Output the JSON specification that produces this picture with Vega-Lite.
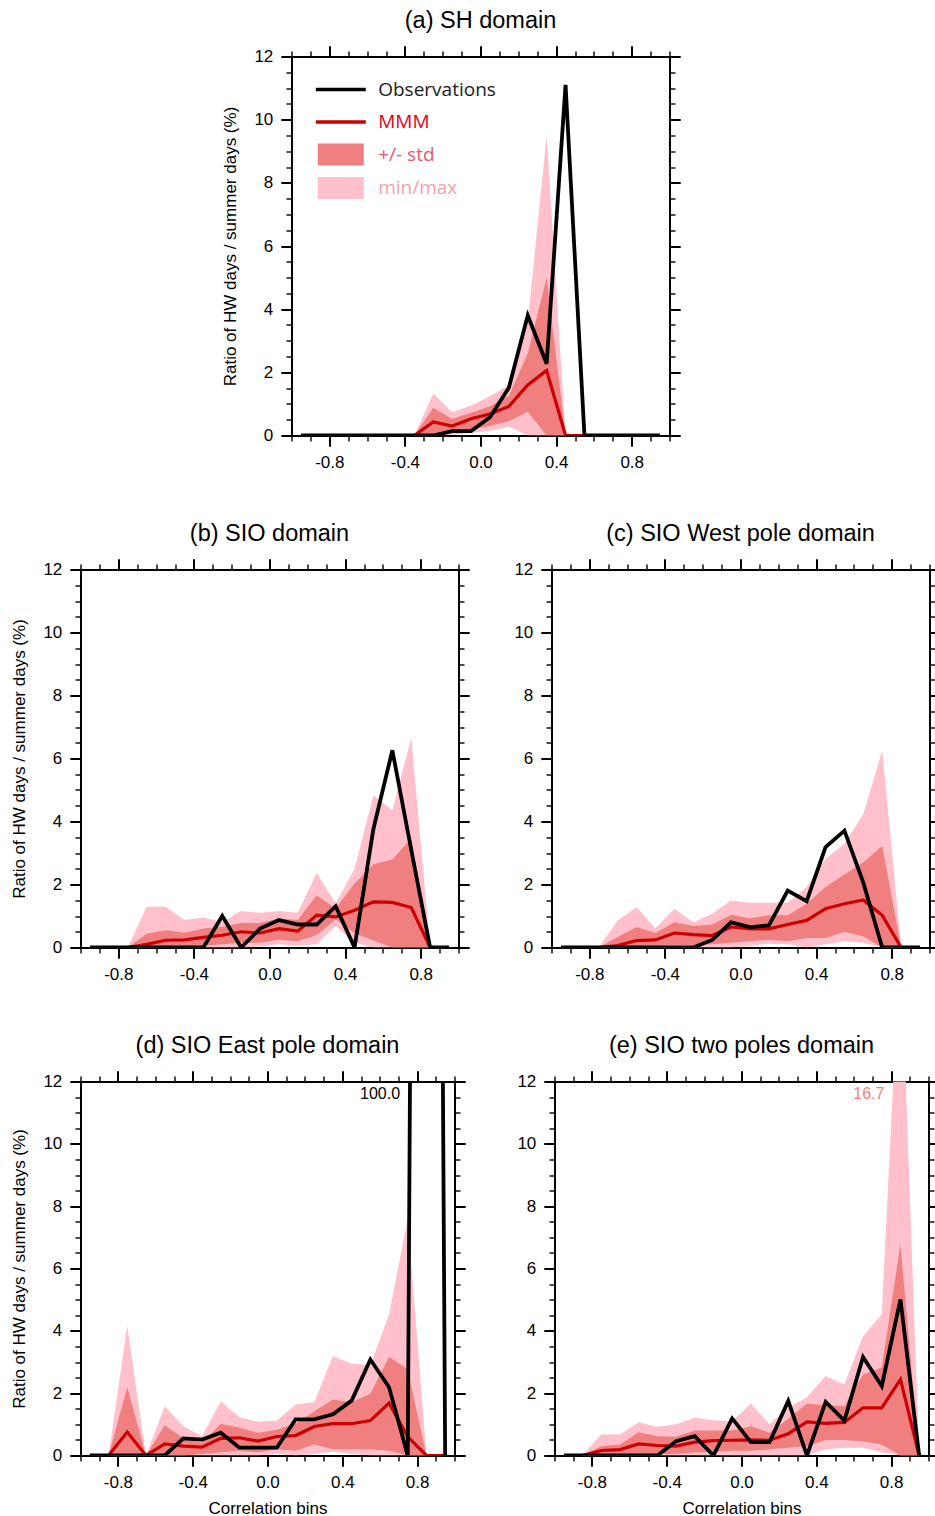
{
"$schema": "https://vega.github.io/schema/vega-lite/v6.json",
"padding": {"left": 10.5, "top": 8.5, "right": 0, "bottom": 0},
"background": "white",
"config": {
  "view": {"stroke": null},
  "font": "Liberation Sans",
  "axis": {"grid": false, "domainColor": "black", "tickColor": "black", "labelColor": "black", "titleColor": "black", "labelFontSize": 17, "titleFontSize": 17, "titleFontWeight": "normal", "labelFont": "Liberation Sans", "titleFont": "Liberation Sans", "labelFlush": false, "domainWidth": 2, "zindex": 1, "labelPadding": 8, "titlePadding": 14},
  "title": {"font": "Liberation Sans", "fontSize": 23.5, "fontWeight": "normal", "color": "black", "offset": 12, "anchor": "middle", "frame": "group"}
},
"datasets": {
"notes": [
{"p":"d","x":0.709,"y":11.6,"label":"100.0"},
{"p":"e","x":0.764,"y":11.6,"label":"16.7"}
],
"bins": [
{"p":"a","x":-0.95,"obs":0,"mmm":0,"slo":0,"shi":0,"mn":0,"mx":0},
{"p":"a","x":-0.85,"obs":0,"mmm":0,"slo":0,"shi":0,"mn":0,"mx":0},
{"p":"a","x":-0.75,"obs":0,"mmm":0,"slo":0,"shi":0,"mn":0,"mx":0},
{"p":"a","x":-0.65,"obs":0,"mmm":0,"slo":0,"shi":0,"mn":0,"mx":0},
{"p":"a","x":-0.55,"obs":0,"mmm":0,"slo":0,"shi":0,"mn":0,"mx":0},
{"p":"a","x":-0.45,"obs":0,"mmm":0,"slo":0,"shi":0,"mn":0,"mx":0},
{"p":"a","x":-0.35,"obs":0,"mmm":0,"slo":0,"shi":0,"mn":0,"mx":0},
{"p":"a","x":-0.25,"obs":0,"mmm":0.43,"slo":0.05,"shi":0.88,"mn":0,"mx":1.33},
{"p":"a","x":-0.15,"obs":0.14,"mmm":0.3,"slo":0.1,"shi":0.52,"mn":0.02,"mx":0.74},
{"p":"a","x":-0.05,"obs":0.14,"mmm":0.53,"slo":0.2,"shi":0.72,"mn":0.08,"mx":0.95},
{"p":"a","x":0.05,"obs":0.58,"mmm":0.68,"slo":0.3,"shi":0.93,"mn":0.15,"mx":1.24},
{"p":"a","x":0.15,"obs":1.51,"mmm":0.92,"slo":0.45,"shi":1.25,"mn":0.28,"mx":1.6},
{"p":"a","x":0.25,"obs":3.8,"mmm":1.6,"slo":0.75,"shi":2.6,"mn":0,"mx":3.6},
{"p":"a","x":0.35,"obs":2.27,"mmm":2.06,"slo":0,"shi":5.0,"mn":0,"mx":9.5},
{"p":"a","x":0.45,"obs":11.1,"mmm":0,"slo":0,"shi":0,"mn":0,"mx":0},
{"p":"a","x":0.55,"obs":0,"mmm":0,"slo":0,"shi":0,"mn":0,"mx":0},
{"p":"a","x":0.65,"obs":0,"mmm":0,"slo":0,"shi":0,"mn":0,"mx":0},
{"p":"a","x":0.75,"obs":0,"mmm":0,"slo":0,"shi":0,"mn":0,"mx":0},
{"p":"a","x":0.85,"obs":0,"mmm":0,"slo":0,"shi":0,"mn":0,"mx":0},
{"p":"a","x":0.95,"obs":0,"mmm":0,"slo":0,"shi":0,"mn":0,"mx":0},
{"p":"b","x":-0.95,"obs":0,"mmm":0,"slo":0,"shi":0,"mn":0,"mx":0},
{"p":"b","x":-0.85,"obs":0,"mmm":0,"slo":0,"shi":0,"mn":0,"mx":0},
{"p":"b","x":-0.75,"obs":0,"mmm":0,"slo":0,"shi":0,"mn":0,"mx":0},
{"p":"b","x":-0.65,"obs":0,"mmm":0.1,"slo":0,"shi":0.44,"mn":0,"mx":1.29},
{"p":"b","x":-0.55,"obs":0,"mmm":0.23,"slo":0.03,"shi":0.55,"mn":0,"mx":1.29},
{"p":"b","x":-0.45,"obs":0,"mmm":0.24,"slo":0.05,"shi":0.47,"mn":0,"mx":0.87},
{"p":"b","x":-0.35,"obs":0,"mmm":0.32,"slo":0.05,"shi":0.6,"mn":0,"mx":0.95},
{"p":"b","x":-0.25,"obs":1.0,"mmm":0.39,"slo":0.1,"shi":0.66,"mn":0,"mx":0.81},
{"p":"b","x":-0.15,"obs":0,"mmm":0.5,"slo":0.15,"shi":0.78,"mn":0,"mx":1.16},
{"p":"b","x":-0.05,"obs":0.6,"mmm":0.46,"slo":0.15,"shi":0.78,"mn":0.03,"mx":1.1},
{"p":"b","x":0.05,"obs":0.87,"mmm":0.6,"slo":0.25,"shi":0.92,"mn":0.1,"mx":1.16},
{"p":"b","x":0.15,"obs":0.73,"mmm":0.52,"slo":0.2,"shi":0.87,"mn":0.05,"mx":1.1},
{"p":"b","x":0.25,"obs":0.73,"mmm":1.03,"slo":0.4,"shi":1.66,"mn":0.1,"mx":2.37},
{"p":"b","x":0.35,"obs":1.31,"mmm":0.97,"slo":0.9,"shi":1.24,"mn":0.68,"mx":1.4},
{"p":"b","x":0.45,"obs":0,"mmm":1.18,"slo":0.45,"shi":2.03,"mn":0.15,"mx":2.5},
{"p":"b","x":0.55,"obs":3.77,"mmm":1.45,"slo":0.22,"shi":2.64,"mn":0,"mx":4.83},
{"p":"b","x":0.65,"obs":6.26,"mmm":1.43,"slo":0,"shi":2.79,"mn":0,"mx":4.36},
{"p":"b","x":0.75,"obs":3.1,"mmm":1.27,"slo":0,"shi":3.46,"mn":0,"mx":6.65},
{"p":"b","x":0.85,"obs":0,"mmm":0,"slo":0,"shi":0,"mn":0,"mx":0},
{"p":"b","x":0.95,"obs":0,"mmm":0,"slo":0,"shi":0,"mn":0,"mx":0},
{"p":"c","x":-0.95,"obs":0,"mmm":0,"slo":0,"shi":0,"mn":0,"mx":0},
{"p":"c","x":-0.85,"obs":0,"mmm":0,"slo":0,"shi":0,"mn":0,"mx":0},
{"p":"c","x":-0.75,"obs":0,"mmm":0,"slo":0,"shi":0,"mn":0,"mx":0},
{"p":"c","x":-0.65,"obs":0,"mmm":0.06,"slo":0,"shi":0.33,"mn":0,"mx":0.86},
{"p":"c","x":-0.55,"obs":0,"mmm":0.22,"slo":0.03,"shi":0.65,"mn":0,"mx":1.28},
{"p":"c","x":-0.45,"obs":0,"mmm":0.24,"slo":0.05,"shi":0.46,"mn":0,"mx":0.61},
{"p":"c","x":-0.35,"obs":0,"mmm":0.46,"slo":0.08,"shi":0.8,"mn":0,"mx":1.23},
{"p":"c","x":-0.25,"obs":0,"mmm":0.41,"slo":0.08,"shi":0.68,"mn":0,"mx":0.8},
{"p":"c","x":-0.15,"obs":0.24,"mmm":0.38,"slo":0.1,"shi":0.73,"mn":0,"mx":1.07},
{"p":"c","x":-0.05,"obs":0.8,"mmm":0.65,"slo":0.15,"shi":1.04,"mn":0,"mx":1.49},
{"p":"c","x":0.05,"obs":0.65,"mmm":0.59,"slo":0.2,"shi":0.93,"mn":0.05,"mx":1.42},
{"p":"c","x":0.15,"obs":0.7,"mmm":0.59,"slo":0.25,"shi":1.02,"mn":0.12,"mx":1.42},
{"p":"c","x":0.25,"obs":1.81,"mmm":0.73,"slo":0.2,"shi":1.02,"mn":0.1,"mx":1.42},
{"p":"c","x":0.35,"obs":1.47,"mmm":0.86,"slo":0.3,"shi":1.39,"mn":0,"mx":1.92},
{"p":"c","x":0.45,"obs":3.19,"mmm":1.23,"slo":0.3,"shi":1.92,"mn":0.1,"mx":2.81},
{"p":"c","x":0.55,"obs":3.71,"mmm":1.39,"slo":0.5,"shi":2.32,"mn":0.2,"mx":3.29},
{"p":"c","x":0.65,"obs":2.05,"mmm":1.51,"slo":0.35,"shi":2.71,"mn":0.15,"mx":4.24},
{"p":"c","x":0.75,"obs":0,"mmm":1.02,"slo":0,"shi":3.22,"mn":0,"mx":6.25},
{"p":"c","x":0.85,"obs":0,"mmm":0,"slo":0,"shi":0,"mn":0,"mx":0},
{"p":"c","x":0.95,"obs":0,"mmm":0,"slo":0,"shi":0,"mn":0,"mx":0},
{"p":"d","x":-0.95,"obs":0,"mmm":0,"slo":0,"shi":0,"mn":0,"mx":0},
{"p":"d","x":-0.85,"obs":0,"mmm":0,"slo":0,"shi":0,"mn":0,"mx":0},
{"p":"d","x":-0.75,"obs":0,"mmm":0.75,"slo":0,"shi":2.19,"mn":0,"mx":4.15},
{"p":"d","x":-0.65,"obs":0,"mmm":0,"slo":0,"shi":0,"mn":0,"mx":0},
{"p":"d","x":-0.55,"obs":0,"mmm":0.37,"slo":0,"shi":0.97,"mn":0,"mx":1.58},
{"p":"d","x":-0.45,"obs":0.55,"mmm":0.3,"slo":0,"shi":0.55,"mn":0,"mx":0.94},
{"p":"d","x":-0.35,"obs":0.51,"mmm":0.27,"slo":0.05,"shi":0.41,"mn":0,"mx":0.62},
{"p":"d","x":-0.25,"obs":0.73,"mmm":0.55,"slo":0.1,"shi":1.02,"mn":0,"mx":1.74},
{"p":"d","x":-0.15,"obs":0.25,"mmm":0.57,"slo":0.15,"shi":0.89,"mn":0,"mx":1.23},
{"p":"d","x":-0.05,"obs":0.25,"mmm":0.46,"slo":0.1,"shi":0.73,"mn":0,"mx":1.08},
{"p":"d","x":0.05,"obs":0.25,"mmm":0.61,"slo":0.2,"shi":0.83,"mn":0.05,"mx":1.12},
{"p":"d","x":0.15,"obs":1.16,"mmm":0.64,"slo":0.15,"shi":1.02,"mn":0,"mx":1.64},
{"p":"d","x":0.25,"obs":1.16,"mmm":0.93,"slo":0.35,"shi":1.42,"mn":0.05,"mx":1.71},
{"p":"d","x":0.35,"obs":1.32,"mmm":1.02,"slo":0.2,"shi":1.8,"mn":0.12,"mx":3.19},
{"p":"d","x":0.45,"obs":1.76,"mmm":1.02,"slo":0.2,"shi":1.71,"mn":0.05,"mx":2.94},
{"p":"d","x":0.55,"obs":3.08,"mmm":1.12,"slo":0.2,"shi":1.98,"mn":0,"mx":2.9},
{"p":"d","x":0.65,"obs":2.19,"mmm":1.68,"slo":0.15,"shi":3.17,"mn":0,"mx":4.52},
{"p":"d","x":0.75,"obs":0,"mmm":0.6,"slo":0,"shi":2.76,"mn":0,"mx":7.6},
{"p":"d","x":0.85,"obs":100,"mmm":0,"slo":0,"shi":0,"mn":0,"mx":0},
{"p":"d","x":0.95,"obs":0,"mmm":0,"slo":0,"shi":0,"mn":0,"mx":0},
{"p":"e","x":-0.95,"obs":0,"mmm":0,"slo":0,"shi":0,"mn":0,"mx":0},
{"p":"e","x":-0.85,"obs":0,"mmm":0,"slo":0,"shi":0,"mn":0,"mx":0},
{"p":"e","x":-0.75,"obs":0,"mmm":0.16,"slo":0.02,"shi":0.3,"mn":0,"mx":0.67},
{"p":"e","x":-0.65,"obs":0,"mmm":0.19,"slo":0.03,"shi":0.35,"mn":0,"mx":0.67},
{"p":"e","x":-0.55,"obs":0,"mmm":0.37,"slo":0.05,"shi":0.75,"mn":0,"mx":1.07},
{"p":"e","x":-0.45,"obs":0,"mmm":0.32,"slo":0.05,"shi":0.62,"mn":0,"mx":0.92},
{"p":"e","x":-0.35,"obs":0.46,"mmm":0.3,"slo":0.05,"shi":0.6,"mn":0,"mx":1.0},
{"p":"e","x":-0.25,"obs":0.62,"mmm":0.43,"slo":0.1,"shi":0.8,"mn":0,"mx":1.21},
{"p":"e","x":-0.15,"obs":0,"mmm":0.48,"slo":0.12,"shi":0.8,"mn":0,"mx":1.13},
{"p":"e","x":-0.05,"obs":1.19,"mmm":0.49,"slo":0.15,"shi":0.8,"mn":0,"mx":1.1},
{"p":"e","x":0.05,"obs":0.43,"mmm":0.5,"slo":0.15,"shi":0.94,"mn":0,"mx":1.67},
{"p":"e","x":0.15,"obs":0.43,"mmm":0.49,"slo":0.2,"shi":0.73,"mn":0,"mx":1.0},
{"p":"e","x":0.25,"obs":1.75,"mmm":0.7,"slo":0.25,"shi":1.18,"mn":0,"mx":1.53},
{"p":"e","x":0.35,"obs":0,"mmm":1.08,"slo":0.3,"shi":1.66,"mn":0,"mx":1.87},
{"p":"e","x":0.45,"obs":1.72,"mmm":1.03,"slo":0.5,"shi":1.62,"mn":0.2,"mx":2.55},
{"p":"e","x":0.55,"obs":1.12,"mmm":1.06,"slo":0.5,"shi":1.58,"mn":0.25,"mx":2.28},
{"p":"e","x":0.65,"obs":3.16,"mmm":1.53,"slo":0.45,"shi":2.6,"mn":0.25,"mx":3.83},
{"p":"e","x":0.75,"obs":2.23,"mmm":1.53,"slo":0.35,"shi":2.82,"mn":0.1,"mx":4.53},
{"p":"e","x":0.85,"obs":5.01,"mmm":2.44,"slo":0,"shi":6.78,"mn":0,"mx":16.7},
{"p":"e","x":0.95,"obs":0,"mmm":0,"slo":0,"shi":0,"mn":0,"mx":0}
]
},
"resolve": {"scale": {"color": "independent"}, "legend": {"color": "independent"}},
"spacing": 51,
"vconcat": [
{
"spacing": 20,
"resolve": {"scale": {"color": "independent"}, "legend": {"color": "independent"}},
"hconcat": [
{"width": 121, "height": 20, "data": {"values": []}, "mark": {"type": "point", "opacity": 0}, "encoding": {}},
{
"width": 378, "height": 379,
"title": {"text": "(a) SH domain"},
"data": {"name": "bins"},
"transform": [{"filter": "datum.p === 'a'"}],
"resolve": {"axis": {"x": "independent", "y": "independent"}},
"layer": [
{"mark": {"type": "area", "opacity": 1, "clip": true},
 "encoding": {
  "x": {"field": "x", "type": "quantitative", "scale": {"domain": [-1, 1], "nice": false, "zero": false}, "axis": {"orient": "bottom", "values": [-0.8, -0.4, 0, 0.4, 0.8], "labelExpr": "datum.value < 0 ? '-' + format(-datum.value, '.1f') : format(datum.value, '.1f')", "tickSize": 10.7, "tickWidth": 2, "title": null}},
  "y": {"field": "mn", "type": "quantitative", "scale": {"domain": [0, 12], "nice": false, "zero": false}, "axis": {"orient": "left", "values": [0, 2, 4, 6, 8, 10, 12], "format": "d", "tickSize": 10.7, "tickWidth": 2, "title": "Ratio of HW days / summer days (%)"}},
  "y2": {"field": "mx"},
  "color": {"datum": "min/max", "type": "nominal",
   "scale": {"domain": ["Observations", "MMM", "+/- std", "min/max"], "range": ["#000000", "#cc0000", "#f08080", "#ffc0cb"]},
   "legend": {"orient": "none", "legendX": 32.8, "legendY": 16.5, "direction": "vertical", "title": null, "padding": 0, "rowPadding": 5.5, "symbolSize": 1089, "symbolStrokeWidth": 0, "symbolOpacity": 1,
    "symbolType": {"expr": "(datum.value === 'Observations' || datum.value === 'MMM') ? 'M-1.515,-0.106H1.515V0.106H-1.515Z' : 'M-1.394,-0.667H1.394V0.667H-1.394Z'"},
    "labelColor": {"expr": "datum.value === 'MMM' ? '#e2001a' : datum.value === '+/- std' ? '#e9566b' : datum.value === 'min/max' ? '#f4a0ab' : '#1a1a1a'"},
    "labelFont": "Open Sans", "labelFontSize": 19, "labelOffset": 20.9, "labelLimit": 300}
  }
 }},
{"mark": {"type": "area", "opacity": 1, "clip": true},
 "encoding": {
  "x": {"field": "x", "type": "quantitative", "scale": {"domain": [-1, 1], "nice": false, "zero": false}, "axis": {"orient": "bottom", "values": [-1, -0.9, -0.8, -0.7, -0.6, -0.5, -0.4, -0.3, -0.2, -0.1, 0, 0.1, 0.2, 0.3, 0.4, 0.5, 0.6, 0.7, 0.8, 0.9, 1], "labels": false, "domain": false, "tickSize": 5.5, "tickWidth": 1.4, "title": null}},
  "y": {"field": "slo", "type": "quantitative", "scale": {"domain": [0, 12], "nice": false, "zero": false}, "axis": {"orient": "left", "values": [0, 0.5, 1, 1.5, 2, 2.5, 3, 3.5, 4, 4.5, 5, 5.5, 6, 6.5, 7, 7.5, 8, 8.5, 9, 9.5, 10, 10.5, 11, 11.5, 12], "labels": false, "domain": false, "tickSize": 5.5, "tickWidth": 1.4, "title": null}},
  "y2": {"field": "shi"},
  "color": {"datum": "+/- std", "type": "nominal"}
 }},
{"mark": {"type": "line", "strokeWidth": 3.2, "clip": true},
 "encoding": {
  "x": {"field": "x", "type": "quantitative", "scale": {"domain": [-1, 1], "nice": false, "zero": false}, "axis": {"orient": "top", "values": [-0.8, -0.4, 0, 0.4, 0.8], "labels": false, "tickSize": 10.7, "tickWidth": 2, "title": null}},
  "y": {"field": "mmm", "type": "quantitative", "scale": {"domain": [0, 12], "nice": false, "zero": false}, "axis": {"orient": "right", "values": [0, 2, 4, 6, 8, 10, 12], "labels": false, "tickSize": 10.7, "tickWidth": 2, "title": null}},
  "color": {"datum": "MMM", "type": "nominal"}
 }},
{"mark": {"type": "line", "strokeWidth": 3.8, "clip": true},
 "encoding": {
  "x": {"field": "x", "type": "quantitative", "scale": {"domain": [-1, 1], "nice": false, "zero": false}, "axis": {"orient": "top", "values": [-1, -0.9, -0.8, -0.7, -0.6, -0.5, -0.4, -0.3, -0.2, -0.1, 0, 0.1, 0.2, 0.3, 0.4, 0.5, 0.6, 0.7, 0.8, 0.9, 1], "labels": false, "domain": false, "tickSize": 5.5, "tickWidth": 1.4, "title": null}},
  "y": {"field": "obs", "type": "quantitative", "scale": {"domain": [0, 12], "nice": false, "zero": false}, "axis": {"orient": "right", "values": [0, 0.5, 1, 1.5, 2, 2.5, 3, 3.5, 4, 4.5, 5, 5.5, 6, 6.5, 7, 7.5, 8, 8.5, 9, 9.5, 10, 10.5, 11, 11.5, 12], "labels": false, "domain": false, "tickSize": 5.5, "tickWidth": 1.4, "title": null}},
  "color": {"datum": "Observations", "type": "nominal"}
 }}
]
}
]
},
{
"spacing": 43,
"hconcat": [
{
"width": 378, "height": 378,
"title": {"text": "(b) SIO domain"},
"data": {"name": "bins"},
"transform": [{"filter": "datum.p === 'b'"}],
"resolve": {"axis": {"x": "independent", "y": "independent"}},
"layer": [
{"mark": {"type": "area", "color": "#ffc0cb", "opacity": 1, "clip": true},
 "encoding": {
  "x": {"field": "x", "type": "quantitative", "scale": {"domain": [-1, 1], "nice": false, "zero": false}, "axis": {"orient": "bottom", "values": [-0.8, -0.4, 0, 0.4, 0.8], "labelExpr": "datum.value < 0 ? '-' + format(-datum.value, '.1f') : format(datum.value, '.1f')", "tickSize": 10.7, "tickWidth": 2, "title": null}},
  "y": {"field": "mn", "type": "quantitative", "scale": {"domain": [0, 12], "nice": false, "zero": false}, "axis": {"orient": "left", "values": [0, 2, 4, 6, 8, 10, 12], "format": "d", "tickSize": 10.7, "tickWidth": 2, "title": "Ratio of HW days / summer days (%)"}},
  "y2": {"field": "mx"}
 }},
{"mark": {"type": "area", "color": "#f08080", "opacity": 1, "clip": true},
 "encoding": {
  "x": {"field": "x", "type": "quantitative", "scale": {"domain": [-1, 1], "nice": false, "zero": false}, "axis": {"orient": "bottom", "values": [-1, -0.9, -0.8, -0.7, -0.6, -0.5, -0.4, -0.3, -0.2, -0.1, 0, 0.1, 0.2, 0.3, 0.4, 0.5, 0.6, 0.7, 0.8, 0.9, 1], "labels": false, "domain": false, "tickSize": 5.5, "tickWidth": 1.4, "title": null}},
  "y": {"field": "slo", "type": "quantitative", "scale": {"domain": [0, 12], "nice": false, "zero": false}, "axis": {"orient": "left", "values": [0, 0.5, 1, 1.5, 2, 2.5, 3, 3.5, 4, 4.5, 5, 5.5, 6, 6.5, 7, 7.5, 8, 8.5, 9, 9.5, 10, 10.5, 11, 11.5, 12], "labels": false, "domain": false, "tickSize": 5.5, "tickWidth": 1.4, "title": null}},
  "y2": {"field": "shi"}
 }},
{"mark": {"type": "line", "color": "#cc0000", "strokeWidth": 3.2, "clip": true},
 "encoding": {
  "x": {"field": "x", "type": "quantitative", "scale": {"domain": [-1, 1], "nice": false, "zero": false}, "axis": {"orient": "top", "values": [-0.8, -0.4, 0, 0.4, 0.8], "labels": false, "tickSize": 10.7, "tickWidth": 2, "title": null}},
  "y": {"field": "mmm", "type": "quantitative", "scale": {"domain": [0, 12], "nice": false, "zero": false}, "axis": {"orient": "right", "values": [0, 2, 4, 6, 8, 10, 12], "labels": false, "tickSize": 10.7, "tickWidth": 2, "title": null}}
 }},
{"mark": {"type": "line", "color": "#000000", "strokeWidth": 3.8, "clip": true},
 "encoding": {
  "x": {"field": "x", "type": "quantitative", "scale": {"domain": [-1, 1], "nice": false, "zero": false}, "axis": {"orient": "top", "values": [-1, -0.9, -0.8, -0.7, -0.6, -0.5, -0.4, -0.3, -0.2, -0.1, 0, 0.1, 0.2, 0.3, 0.4, 0.5, 0.6, 0.7, 0.8, 0.9, 1], "labels": false, "domain": false, "tickSize": 5.5, "tickWidth": 1.4, "title": null}},
  "y": {"field": "obs", "type": "quantitative", "scale": {"domain": [0, 12], "nice": false, "zero": false}, "axis": {"orient": "right", "values": [0, 0.5, 1, 1.5, 2, 2.5, 3, 3.5, 4, 4.5, 5, 5.5, 6, 6.5, 7, 7.5, 8, 8.5, 9, 9.5, 10, 10.5, 11, 11.5, 12], "labels": false, "domain": false, "tickSize": 5.5, "tickWidth": 1.4, "title": null}}
 }}
]
},
{
"width": 378, "height": 378,
"title": {"text": "(c) SIO West pole domain"},
"data": {"name": "bins"},
"transform": [{"filter": "datum.p === 'c'"}],
"resolve": {"axis": {"x": "independent", "y": "independent"}},
"layer": [
{"mark": {"type": "area", "color": "#ffc0cb", "opacity": 1, "clip": true},
 "encoding": {
  "x": {"field": "x", "type": "quantitative", "scale": {"domain": [-1, 1], "nice": false, "zero": false}, "axis": {"orient": "bottom", "values": [-0.8, -0.4, 0, 0.4, 0.8], "labelExpr": "datum.value < 0 ? '-' + format(-datum.value, '.1f') : format(datum.value, '.1f')", "tickSize": 10.7, "tickWidth": 2, "title": null}},
  "y": {"field": "mn", "type": "quantitative", "scale": {"domain": [0, 12], "nice": false, "zero": false}, "axis": {"orient": "left", "values": [0, 2, 4, 6, 8, 10, 12], "format": "d", "tickSize": 10.7, "tickWidth": 2, "title": null}},
  "y2": {"field": "mx"}
 }},
{"mark": {"type": "area", "color": "#f08080", "opacity": 1, "clip": true},
 "encoding": {
  "x": {"field": "x", "type": "quantitative", "scale": {"domain": [-1, 1], "nice": false, "zero": false}, "axis": {"orient": "bottom", "values": [-1, -0.9, -0.8, -0.7, -0.6, -0.5, -0.4, -0.3, -0.2, -0.1, 0, 0.1, 0.2, 0.3, 0.4, 0.5, 0.6, 0.7, 0.8, 0.9, 1], "labels": false, "domain": false, "tickSize": 5.5, "tickWidth": 1.4, "title": null}},
  "y": {"field": "slo", "type": "quantitative", "scale": {"domain": [0, 12], "nice": false, "zero": false}, "axis": {"orient": "left", "values": [0, 0.5, 1, 1.5, 2, 2.5, 3, 3.5, 4, 4.5, 5, 5.5, 6, 6.5, 7, 7.5, 8, 8.5, 9, 9.5, 10, 10.5, 11, 11.5, 12], "labels": false, "domain": false, "tickSize": 5.5, "tickWidth": 1.4, "title": null}},
  "y2": {"field": "shi"}
 }},
{"mark": {"type": "line", "color": "#cc0000", "strokeWidth": 3.2, "clip": true},
 "encoding": {
  "x": {"field": "x", "type": "quantitative", "scale": {"domain": [-1, 1], "nice": false, "zero": false}, "axis": {"orient": "top", "values": [-0.8, -0.4, 0, 0.4, 0.8], "labels": false, "tickSize": 10.7, "tickWidth": 2, "title": null}},
  "y": {"field": "mmm", "type": "quantitative", "scale": {"domain": [0, 12], "nice": false, "zero": false}, "axis": {"orient": "right", "values": [0, 2, 4, 6, 8, 10, 12], "labels": false, "tickSize": 10.7, "tickWidth": 2, "title": null}}
 }},
{"mark": {"type": "line", "color": "#000000", "strokeWidth": 3.8, "clip": true},
 "encoding": {
  "x": {"field": "x", "type": "quantitative", "scale": {"domain": [-1, 1], "nice": false, "zero": false}, "axis": {"orient": "top", "values": [-1, -0.9, -0.8, -0.7, -0.6, -0.5, -0.4, -0.3, -0.2, -0.1, 0, 0.1, 0.2, 0.3, 0.4, 0.5, 0.6, 0.7, 0.8, 0.9, 1], "labels": false, "domain": false, "tickSize": 5.5, "tickWidth": 1.4, "title": null}},
  "y": {"field": "obs", "type": "quantitative", "scale": {"domain": [0, 12], "nice": false, "zero": false}, "axis": {"orient": "right", "values": [0, 0.5, 1, 1.5, 2, 2.5, 3, 3.5, 4, 4.5, 5, 5.5, 6, 6.5, 7, 7.5, 8, 8.5, 9, 9.5, 10, 10.5, 11, 11.5, 12], "labels": false, "domain": false, "tickSize": 5.5, "tickWidth": 1.4, "title": null}}
 }}
]
}
]
},
{
"spacing": 50,
"hconcat": [
{
"width": 374, "height": 374,
"title": {"text": "(d) SIO East pole domain"},
"data": {"name": "bins"},
"transform": [{"filter": "datum.p === 'd'"}],
"resolve": {"axis": {"x": "independent", "y": "independent"}},
"layer": [
{"mark": {"type": "area", "color": "#ffc0cb", "opacity": 1, "clip": true},
 "encoding": {
  "x": {"field": "x", "type": "quantitative", "scale": {"domain": [-1, 1], "nice": false, "zero": false}, "axis": {"orient": "bottom", "values": [-0.8, -0.4, 0, 0.4, 0.8], "labelExpr": "datum.value < 0 ? '-' + format(-datum.value, '.1f') : format(datum.value, '.1f')", "tickSize": 10.7, "tickWidth": 2, "title": "Correlation bins", "titlePadding": 10}},
  "y": {"field": "mn", "type": "quantitative", "scale": {"domain": [0, 12], "nice": false, "zero": false}, "axis": {"orient": "left", "values": [0, 2, 4, 6, 8, 10, 12], "format": "d", "tickSize": 10.7, "tickWidth": 2, "title": "Ratio of HW days / summer days (%)"}},
  "y2": {"field": "mx"}
 }},
{"mark": {"type": "area", "color": "#f08080", "opacity": 1, "clip": true},
 "encoding": {
  "x": {"field": "x", "type": "quantitative", "scale": {"domain": [-1, 1], "nice": false, "zero": false}, "axis": {"orient": "bottom", "values": [-1, -0.9, -0.8, -0.7, -0.6, -0.5, -0.4, -0.3, -0.2, -0.1, 0, 0.1, 0.2, 0.3, 0.4, 0.5, 0.6, 0.7, 0.8, 0.9, 1], "labels": false, "domain": false, "tickSize": 5.5, "tickWidth": 1.4, "title": null}},
  "y": {"field": "slo", "type": "quantitative", "scale": {"domain": [0, 12], "nice": false, "zero": false}, "axis": {"orient": "left", "values": [0, 0.5, 1, 1.5, 2, 2.5, 3, 3.5, 4, 4.5, 5, 5.5, 6, 6.5, 7, 7.5, 8, 8.5, 9, 9.5, 10, 10.5, 11, 11.5, 12], "labels": false, "domain": false, "tickSize": 5.5, "tickWidth": 1.4, "title": null}},
  "y2": {"field": "shi"}
 }},
{"mark": {"type": "line", "color": "#cc0000", "strokeWidth": 3.2, "clip": true},
 "encoding": {
  "x": {"field": "x", "type": "quantitative", "scale": {"domain": [-1, 1], "nice": false, "zero": false}, "axis": {"orient": "top", "values": [-0.8, -0.4, 0, 0.4, 0.8], "labels": false, "tickSize": 10.7, "tickWidth": 2, "title": null}},
  "y": {"field": "mmm", "type": "quantitative", "scale": {"domain": [0, 12], "nice": false, "zero": false}, "axis": {"orient": "right", "values": [0, 2, 4, 6, 8, 10, 12], "labels": false, "tickSize": 10.7, "tickWidth": 2, "title": null}}
 }},
{"mark": {"type": "line", "color": "#000000", "strokeWidth": 3.8, "clip": true},
 "encoding": {
  "x": {"field": "x", "type": "quantitative", "scale": {"domain": [-1, 1], "nice": false, "zero": false}, "axis": {"orient": "top", "values": [-1, -0.9, -0.8, -0.7, -0.6, -0.5, -0.4, -0.3, -0.2, -0.1, 0, 0.1, 0.2, 0.3, 0.4, 0.5, 0.6, 0.7, 0.8, 0.9, 1], "labels": false, "domain": false, "tickSize": 5.5, "tickWidth": 1.4, "title": null}},
  "y": {"field": "obs", "type": "quantitative", "scale": {"domain": [0, 12], "nice": false, "zero": false}, "axis": {"orient": "right", "values": [0, 0.5, 1, 1.5, 2, 2.5, 3, 3.5, 4, 4.5, 5, 5.5, 6, 6.5, 7, 7.5, 8, 8.5, 9, 9.5, 10, 10.5, 11, 11.5, 12], "labels": false, "domain": false, "tickSize": 5.5, "tickWidth": 1.4, "title": null}}
 }},
{"data": {"name": "notes"},
 "transform": [{"filter": "datum.p === 'd'"}],
 "mark": {"type": "text", "align": "right", "baseline": "middle", "font": "Liberation Sans", "fontSize": 16, "color": "#000000"},
 "encoding": {
  "x": {"field": "x", "type": "quantitative", "scale": {"domain": [-1, 1], "nice": false, "zero": false}, "axis": null},
  "y": {"field": "y", "type": "quantitative", "scale": {"domain": [0, 12], "nice": false, "zero": false}, "axis": null},
  "text": {"field": "label"}
 }}
]
},
{
"width": 374, "height": 374,
"title": {"text": "(e) SIO two poles domain"},
"data": {"name": "bins"},
"transform": [{"filter": "datum.p === 'e'"}],
"resolve": {"axis": {"x": "independent", "y": "independent"}},
"layer": [
{"mark": {"type": "area", "color": "#ffc0cb", "opacity": 1, "clip": true},
 "encoding": {
  "x": {"field": "x", "type": "quantitative", "scale": {"domain": [-1, 1], "nice": false, "zero": false}, "axis": {"orient": "bottom", "values": [-0.8, -0.4, 0, 0.4, 0.8], "labelExpr": "datum.value < 0 ? '-' + format(-datum.value, '.1f') : format(datum.value, '.1f')", "tickSize": 10.7, "tickWidth": 2, "title": "Correlation bins", "titlePadding": 10}},
  "y": {"field": "mn", "type": "quantitative", "scale": {"domain": [0, 12], "nice": false, "zero": false}, "axis": {"orient": "left", "values": [0, 2, 4, 6, 8, 10, 12], "format": "d", "tickSize": 10.7, "tickWidth": 2, "title": null}},
  "y2": {"field": "mx"}
 }},
{"mark": {"type": "area", "color": "#f08080", "opacity": 1, "clip": true},
 "encoding": {
  "x": {"field": "x", "type": "quantitative", "scale": {"domain": [-1, 1], "nice": false, "zero": false}, "axis": {"orient": "bottom", "values": [-1, -0.9, -0.8, -0.7, -0.6, -0.5, -0.4, -0.3, -0.2, -0.1, 0, 0.1, 0.2, 0.3, 0.4, 0.5, 0.6, 0.7, 0.8, 0.9, 1], "labels": false, "domain": false, "tickSize": 5.5, "tickWidth": 1.4, "title": null}},
  "y": {"field": "slo", "type": "quantitative", "scale": {"domain": [0, 12], "nice": false, "zero": false}, "axis": {"orient": "left", "values": [0, 0.5, 1, 1.5, 2, 2.5, 3, 3.5, 4, 4.5, 5, 5.5, 6, 6.5, 7, 7.5, 8, 8.5, 9, 9.5, 10, 10.5, 11, 11.5, 12], "labels": false, "domain": false, "tickSize": 5.5, "tickWidth": 1.4, "title": null}},
  "y2": {"field": "shi"}
 }},
{"mark": {"type": "line", "color": "#cc0000", "strokeWidth": 3.2, "clip": true},
 "encoding": {
  "x": {"field": "x", "type": "quantitative", "scale": {"domain": [-1, 1], "nice": false, "zero": false}, "axis": {"orient": "top", "values": [-0.8, -0.4, 0, 0.4, 0.8], "labels": false, "tickSize": 10.7, "tickWidth": 2, "title": null}},
  "y": {"field": "mmm", "type": "quantitative", "scale": {"domain": [0, 12], "nice": false, "zero": false}, "axis": {"orient": "right", "values": [0, 2, 4, 6, 8, 10, 12], "labels": false, "tickSize": 10.7, "tickWidth": 2, "title": null}}
 }},
{"mark": {"type": "line", "color": "#000000", "strokeWidth": 3.8, "clip": true},
 "encoding": {
  "x": {"field": "x", "type": "quantitative", "scale": {"domain": [-1, 1], "nice": false, "zero": false}, "axis": {"orient": "top", "values": [-1, -0.9, -0.8, -0.7, -0.6, -0.5, -0.4, -0.3, -0.2, -0.1, 0, 0.1, 0.2, 0.3, 0.4, 0.5, 0.6, 0.7, 0.8, 0.9, 1], "labels": false, "domain": false, "tickSize": 5.5, "tickWidth": 1.4, "title": null}},
  "y": {"field": "obs", "type": "quantitative", "scale": {"domain": [0, 12], "nice": false, "zero": false}, "axis": {"orient": "right", "values": [0, 0.5, 1, 1.5, 2, 2.5, 3, 3.5, 4, 4.5, 5, 5.5, 6, 6.5, 7, 7.5, 8, 8.5, 9, 9.5, 10, 10.5, 11, 11.5, 12], "labels": false, "domain": false, "tickSize": 5.5, "tickWidth": 1.4, "title": null}}
 }},
{"data": {"name": "notes"},
 "transform": [{"filter": "datum.p === 'e'"}],
 "mark": {"type": "text", "align": "right", "baseline": "middle", "font": "Liberation Sans", "fontSize": 16, "color": "#f08080"},
 "encoding": {
  "x": {"field": "x", "type": "quantitative", "scale": {"domain": [-1, 1], "nice": false, "zero": false}, "axis": null},
  "y": {"field": "y", "type": "quantitative", "scale": {"domain": [0, 12], "nice": false, "zero": false}, "axis": null},
  "text": {"field": "label"}
 }}
]
}
]
}
]
}
